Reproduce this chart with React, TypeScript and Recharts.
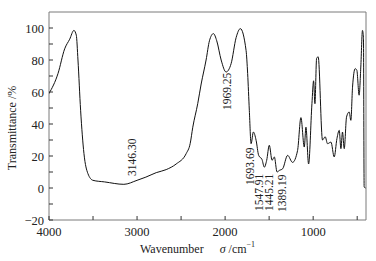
import { LineChart, Line, XAxis, YAxis, ReferenceArea, ReferenceDot } from 'recharts';

// wavenumber (cm-1) from left to right
const wavenumbers = [
  4000, 3898, 3822, 3765, 3717, 3690, 3671, 3641, 3603, 3558, 3501, 3368, 3150, 3000, 2900,
  2782, 2669, 2556, 2442, 2397, 2367, 2311, 2272, 2216, 2178, 2133, 2095, 2045, 1989, 1932,
  1875, 1827, 1762, 1744, 1725, 1705, 1679, 1648, 1619, 1580, 1555, 1528, 1498, 1467, 1441,
  1410, 1384, 1347, 1290, 1234, 1177, 1139, 1101, 1082, 1052, 1014, 995, 980, 961, 943,
  894, 863, 837, 798, 761, 730, 704, 685, 667, 647, 621, 591, 572, 553, 523,
  504, 478, 459, 440, 429, 421, 405,
];
const transmittance = [
  59, 71.5, 87, 93, 98.5, 95.5, 80, 48.6, 21.5, 9, 4.8, 3.8, 2.3, 4.8, 6.8,
  9.6, 11.5, 15, 21.5, 27.7, 38, 52.7, 65, 80, 92, 96.5, 92, 80, 72.5, 77.7,
  94, 99.6, 86, 71.5, 48.6, 27.7, 35, 29.8, 20.4, 17.7, 13, 17.3, 26.7, 17.3, 19.4,
  10, 11, 12, 20.4, 16, 23.5, 44, 25.6, 38, 15, 52.7, 67, 52.7, 81, 82,
  30, 32, 27.7, 28.7, 19.4, 30.9, 36, 24.6, 35, 24.6, 44.4, 47.5, 42.3, 63, 74.6,
  73.6, 58, 75.6, 98.5, 94, 0.6, 0,
];

const xTicks = [4000, 3500, 3000, 2500, 2000, 1500, 1000, 500];
const xLabels = [4000, 3000, 2000, 1000];
const yTicks = [-20, -10, 0, 10, 20, 30, 40, 50, 60, 70, 80, 90, 100];
const yLabels = [-20, 0, 20, 40, 60, 80, 100];

// peak annotations: text, and where the middle of the rotated text sits
const peakNames = ['3146.30', '1969.25', '1693.69', '1547.91', '1445.21', '1389.19'];
const peakX = [3054, 1977, 1721, 1611, 1506, 1354];
const peakY = [19.2, 60.4, 13.6, -2.7, -2.7, -3.3];

const data = wavenumbers.map((w, i) => ({ w, t: transmittance[i] }));

const serif = '"Liberation Serif", "Times New Roman", serif';
const frame = '#7a7a7a';

const XTick = ({ x, y, payload }: any) => (
  <g>
    <line x1={x} y1={y} x2={x} y2={y - 4} stroke="#333" />
    {xLabels.includes(payload.value) && (
      <text x={x} y={y + 16} textAnchor="middle" fontSize={12.5} fontFamily={serif} fill="#222">
        {payload.value}
      </text>
    )}
  </g>
);

const YTick = ({ x, y, payload }: any) => (
  <g>
    <line x1={x} y1={y} x2={x + 4} y2={y} stroke="#333" />
    {yLabels.includes(payload.value) && (
      <text x={x - 5} y={y + 4.5} textAnchor="end" fontSize={12.5} fontFamily={serif} fill="#222">
        {payload.value < 0 ? `\u2212${-payload.value}` : payload.value}
      </text>
    )}
  </g>
);

const PeakLabel = (name: string) => ({ cx, cy }: any) => (
  <text
    x={cx}
    y={cy}
    transform={`rotate(-90 ${cx} ${cy})`}
    textAnchor="middle"
    dominantBaseline="central"
    fontSize={11.5}
    fontFamily={serif}
    fill="#222"
  >
    {name}
  </text>
);

export default function App() {
  return (
    <div style={{ position: 'relative', width: 376, height: 261, background: '#fff' }}>
      <style>{`body{margin:0}`}</style>
      <LineChart width={376} height={261} data={data} margin={{ top: 12, right: 10, left: 0, bottom: 0 }}>
        <XAxis
          dataKey="w"
          type="number"
          domain={[400, 4000]}
          reversed
          ticks={xTicks}
          tick={<XTick />}
          tickSize={0}
          tickMargin={0}
          tickLine={false}
          axisLine={false}
          height={41}
          interval={0}
          allowDataOverflow
        />
        <YAxis
          type="number"
          domain={[-20, 110]}
          ticks={yTicks}
          tick={<YTick />}
          tickSize={0}
          tickMargin={0}
          tickLine={false}
          axisLine={false}
          width={49}
          interval={0}
          allowDataOverflow
        />
        <ReferenceArea x1={4000} x2={400} y1={-20} y2={110} fill="none" stroke={frame} strokeWidth={1} />
        <Line
          type="monotone"
          dataKey="t"
          stroke="#111"
          strokeWidth={1}
          dot={false}
          isAnimationActive={false}
        />
        {peakNames.map((name, i) => (
          <ReferenceDot key={name} x={peakX[i]} y={peakY[i]} r={0} shape={PeakLabel(name)} />
        ))}
      </LineChart>
      <div
        style={{
          position: 'absolute',
          left: 12,
          top: 128,
          transform: 'translate(-50%, -50%) rotate(-90deg)',
          whiteSpace: 'nowrap',
          fontFamily: serif,
          fontSize: 12,
          color: '#222',
        }}
      >
        Transmittance /%
      </div>
      <div
        style={{
          position: 'absolute',
          left: 140,
          top: 242,
          whiteSpace: 'nowrap',
          fontFamily: serif,
          fontSize: 12,
          color: '#222',
        }}
      >
        Wavenumber<span style={{ display: 'inline-block', width: 16 }} />
        <i>σ</i> /cm<sup style={{ fontSize: 8, verticalAlign: 'top', position: 'relative', top: -2 }}>−1</sup>
      </div>
    </div>
  );
}
